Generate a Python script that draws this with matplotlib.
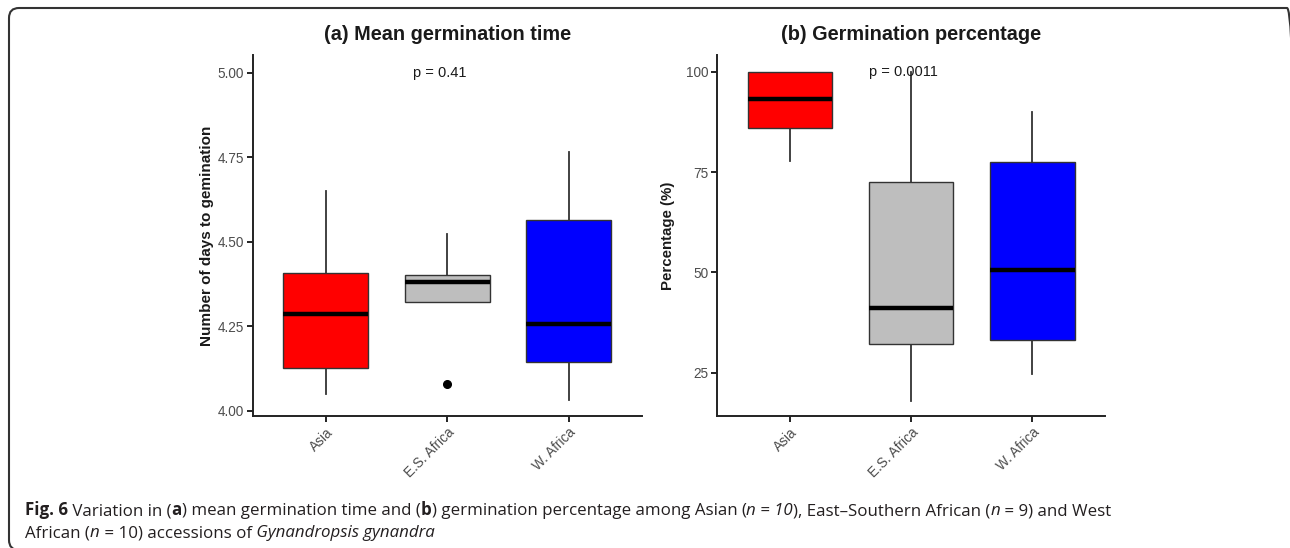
import numpy as np
import matplotlib
matplotlib.use("Agg")
import matplotlib.pyplot as plt
from matplotlib.patches import FancyBboxPatch

# groups and colours
groups = ["Asia", "E.S. Africa", "W. Africa"]
fills = ["#FF0000", "#BEBEBE", "#0000FF"]

# (a) mean germination time, box stats
mgt_lo = [4.049, 4.322, 4.030]
mgt_q1 = [4.125, 4.322, 4.145]
mgt_med = [4.286, 4.381, 4.256]
mgt_q3 = [4.408, 4.401, 4.563]
mgt_hi = [4.650, 4.522, 4.764]
mgt_out = [[], [4.080], []]
mgt_ticks = [4.00, 4.25, 4.50, 4.75, 5.00]

# (b) germination percentage
gp_lo = [77.8, 18.0, 24.7]
gp_q1 = [85.9, 32.1, 33.1]
gp_med = [93.1, 41.2, 50.6]
gp_q3 = [100.0, 72.6, 77.4]
gp_hi = [100.0, 100.0, 90.0]
gp_out = [[], [], []]
gp_ticks = [25, 50, 75, 100]


def make_stats(lo, q1, med, q3, hi, out):
    stats = []
    for i in range(len(lo)):
        stats.append({"whislo": lo[i], "q1": q1[i], "med": med[i],
                      "q3": q3[i], "whishi": hi[i], "fliers": out[i]})
    return stats


def panel(ax, stats, title, ylabel, ylab_size, ylim, yticks, fmt, ptext, py, ylab_x):
    pos = np.arange(1, len(groups) + 1)
    bp = ax.bxp(stats, positions=pos, widths=0.70, patch_artist=True,
                showcaps=False,
                boxprops=dict(edgecolor="#333333", linewidth=1.0),
                medianprops=dict(color="black", linewidth=3.2),
                whiskerprops=dict(color="#333333", linewidth=1.3),
                flierprops=dict(marker="o", markerfacecolor="black",
                                markeredgecolor="black", markersize=5.5))
    for patch, c in zip(bp["boxes"], fills):
        patch.set_facecolor(c)
    for w in bp["whiskers"]:
        w.set_zorder(1)

    ax.set_xlim(0.4, 3.6)
    ax.set_ylim(*ylim)
    ax.set_xticks(pos)
    ax.set_xticklabels(groups, rotation=45, ha="right", va="top",
                       rotation_mode="anchor", color="#4D4D4D", fontsize=9.8)
    ax.set_yticks(yticks)
    ax.set_yticklabels([fmt.format(t) for t in yticks], color="#4D4D4D", fontsize=9.8)
    ax.tick_params(length=4.5, width=1.3, color="#111111", pad=2)
    for s in ["top", "right"]:
        ax.spines[s].set_visible(False)
    for s in ["left", "bottom"]:
        ax.spines[s].set_linewidth(1.4)
        ax.spines[s].set_color("#222222")

    ax.set_title(title, fontsize=14.3, fontweight="bold", pad=11, color="#1a1a1a")
    ax.set_ylabel(ylabel, fontsize=ylab_size, fontweight="bold", color="#1a1a1a")
    ax.yaxis.set_label_coords(ylab_x, 0.5)
    ax.text(1.94, py, ptext, ha="center", va="center", fontsize=10.5, color="#1a1a1a")


plt.rcParams["font.family"] = ["Liberation Sans", "DejaVu Sans"]

fig = plt.figure(figsize=(12.9, 5.48), dpi=100)
ax1 = fig.add_axes([0.1961, 0.2409, 0.3013, 0.6588])
ax2 = fig.add_axes([0.5560, 0.2409, 0.3005, 0.6588])

panel(ax1, make_stats(mgt_lo, mgt_q1, mgt_med, mgt_q3, mgt_hi, mgt_out),
      "(a) Mean germination time", "Number of days to gemination", 11,
      (3.984, 5.052), mgt_ticks, "{:.2f}", "p = 0.41", 5.0, -0.101)
panel(ax2, make_stats(gp_lo, gp_q1, gp_med, gp_q3, gp_hi, gp_out),
      "(b) Germination percentage", "Percentage (%)", 10.8,
      (14.2, 104.2), gp_ticks, "{:d}", "p = 0.0011", 100, -0.108)

# caption, pieces laid one after another
cap_font = ["Open Sans", "DejaVu Sans"]
cap_size = 12.2
cap_color = "#231F20"
line1 = [("Fig. 6", "bold", "normal"), (" Variation in (", "normal", "normal"),
         ("a", "bold", "normal"), (") mean germination time and (", "normal", "normal"),
         ("b", "bold", "normal"), (") germination percentage among Asian (", "normal", "normal"),
         ("n = 10", "normal", "italic"), ("), East\u2013Southern African (", "normal", "normal"),
         ("n", "normal", "italic"), (" = 9) and West", "normal", "normal")]
line2 = [("African (", "normal", "normal"), ("n", "normal", "italic"),
         (" = 10) accessions of", "normal", "normal"),
         (" Gynandropsis gynandra", "normal", "italic")]


def caption(pieces, x, y):
    t = fig.text(x, y, pieces[0][0], fontsize=cap_size, fontweight=pieces[0][1],
                 fontstyle=pieces[0][2], family=cap_font, color=cap_color, va="bottom")
    for txt, wt, st in pieces[1:]:
        t = ax1.annotate(txt, xy=(1, 0), xycoords=t, va="bottom", annotation_clip=False,
                         fontsize=cap_size, fontweight=wt, fontstyle=st,
                         family=cap_font, color=cap_color)


caption(line1, 25 / 1290, 1 - 519 / 548)
caption(line2, 25 / 1290, 1 - 541 / 548)

# rounded frame around the figure
frame = FancyBboxPatch((0.09, -0.02), 12.88, 5.42, boxstyle="round,pad=0,rounding_size=0.1",
                       transform=fig.dpi_scale_trans, fill=False, edgecolor="#333333",
                       linewidth=1.5, clip_on=False)
fig.patches.append(frame)

fig.savefig("out.png", dpi=100)
